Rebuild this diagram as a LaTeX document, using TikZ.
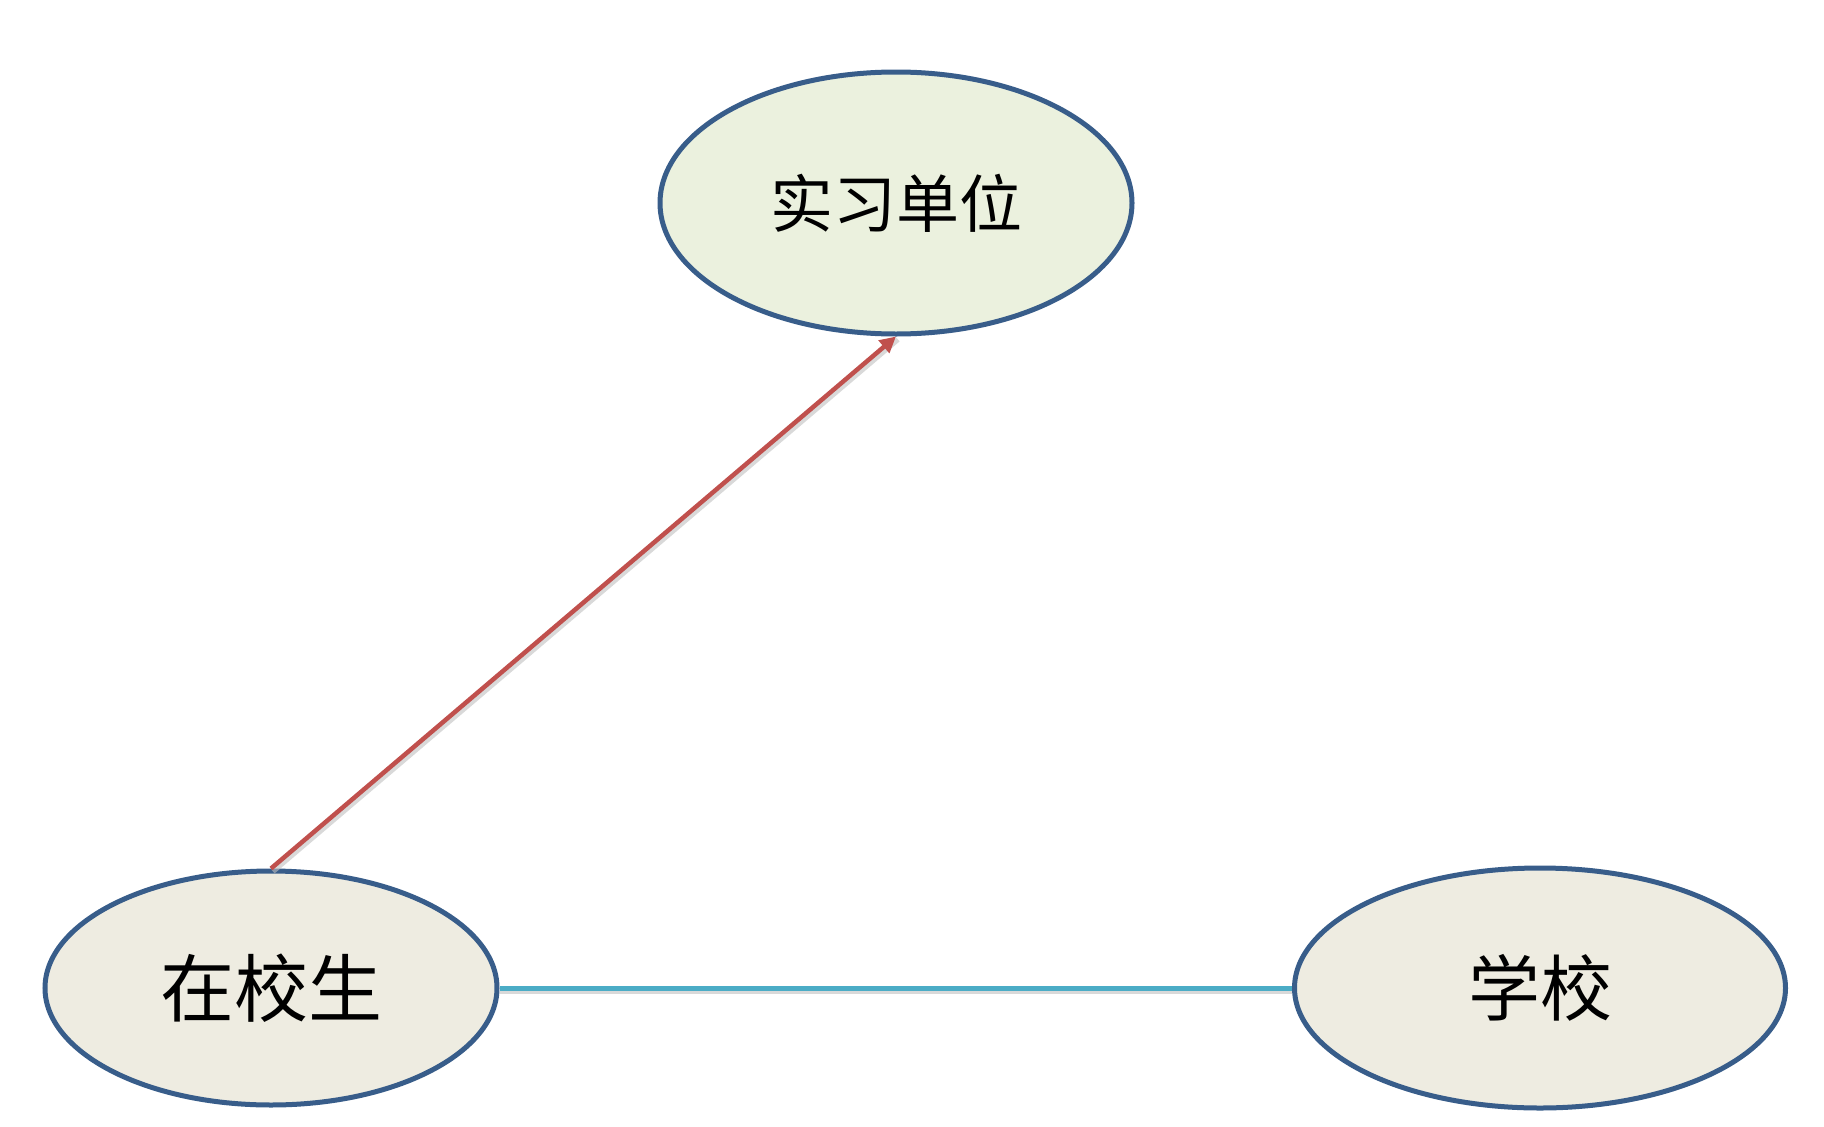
\documentclass[tikz,border=0pt]{standalone}
\usepackage{fontspec}
\newfontfamily\cjk{Noto Sans CJK SC}
\usetikzlibrary{shapes.geometric,arrows.meta}
\definecolor{edgeblue}{HTML}{385D8A}
\definecolor{fillgreen}{HTML}{EBF1DE}
\definecolor{filltan}{HTML}{EEECE1}
\definecolor{arrowred}{HTML}{C0504D}
\definecolor{linecyan}{HTML}{4BACC6}
\tikzset{
  oval/.style={ellipse, draw=edgeblue, line width=5pt, inner sep=0pt},
  lbl/.style={font=\cjk\fontsize{#1}{#1}\selectfont},
  shadowline/.style={line width=5pt, black!25, opacity=0.6},
}
\begin{document}
\begin{tikzpicture}[x=1pt,y=-1pt]
\useasboundingbox (0,0) rectangle (1824,1127);
\node[oval, fill=fillgreen, minimum width=472pt, minimum height=262pt, lbl=63] (unit) at (896,203) {实习单位};
\node[oval, fill=filltan, minimum width=452pt, minimum height=234pt, lbl=74] (stu) at (271,988) {在校生};
\node[oval, fill=filltan, minimum width=491pt, minimum height=240pt, lbl=72] (school) at (1540,988) {学校};
% shadows
\draw[shadowline, transform canvas={shift={(2pt,-3pt)}}] (stu.north) -- (unit.south);
\draw[shadowline, transform canvas={shift={(0pt,-3pt)}}] (stu.east) -- (school.west);
% connectors
\draw[line width=4.5pt, arrowred, -{Triangle[length=16pt,width=16pt]}] (stu.north) -- (unit.south);
\draw[line width=5pt, linecyan] (stu.east) -- (school.west);
\end{tikzpicture}
\end{document}
